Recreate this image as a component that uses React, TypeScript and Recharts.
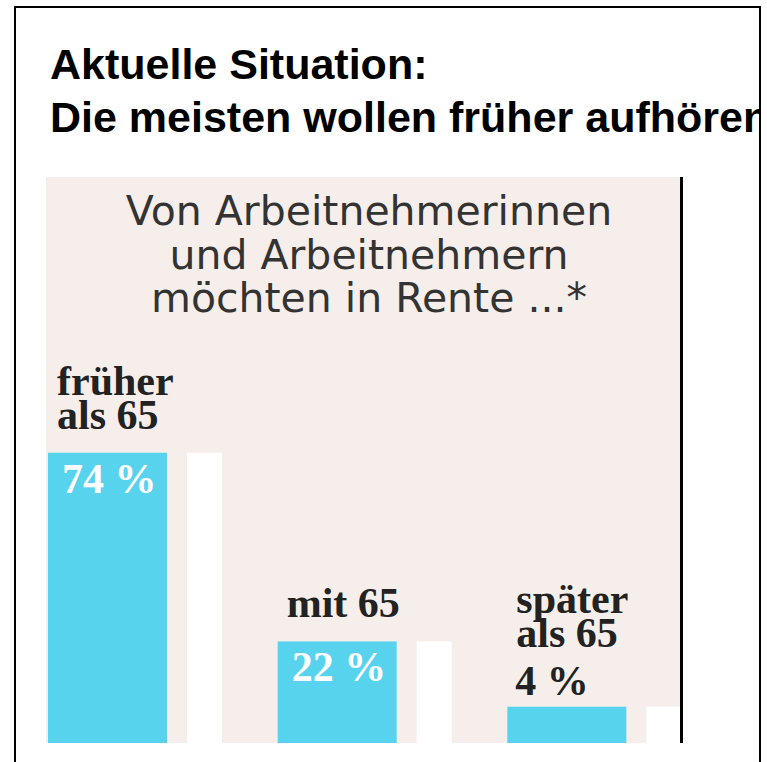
import { BarChart, Bar, XAxis, YAxis, LabelList } from "recharts";

const HEADLINE = ["Aktuelle Situation:", "Die meisten wollen früher aufhören"];
const NOTE_LINES = ["Von Arbeitnehmerinnen", "und Arbeitnehmern", "möchten in Rente ...*"];
const CATEGORIES = ["früher als 65", "mit 65", "später als 65"];
const CATEGORY_LINES = [["früher", "als 65"], ["mit 65"], ["später", "als 65"]];
const SHARES = [74, 22, 4];

// the printed bars are not to scale, so the axis starts a bit below zero
const AXIS_FLOOR = -6;
const AXIS_CEIL = 150;

const BAR_FILL = "#58d3ee";
const PANEL_FILL = "#f5eeea";
const MAIN_W = 119;
const GAP_W = 20;
const SHADOW_W = 35;

const data = CATEGORIES.map((name, i) => ({
  name,
  share: SHARES[i],
  span: [AXIS_FLOOR, SHARES[i]],
}));

const serif = {
  fontFamily: "'Liberation Serif', serif",
  fontWeight: 700,
  fontSize: 42,
};

const isInside = (v: number) => v >= 10;

const ShadowBar = (props: any) => {
  const { x, y, height } = props;
  return (
    <g>
      <rect x={x} y={y} width={MAIN_W} height={height} fill={BAR_FILL} />
      <rect
        x={x + MAIN_W + GAP_W}
        y={y}
        width={SHADOW_W}
        height={height}
        fill="#ffffff"
      />
    </g>
  );
};

const renderShare = (props: any) => {
  const x = props.x ?? props.viewBox?.x;
  const y = props.y ?? props.viewBox?.y;
  const value = Number(props.value);
  const inside = isInside(value);
  return (
    <text
      x={x + (inside ? 14 : 8)}
      y={inside ? y + 40 : y - 12}
      fill={inside ? "#ffffff" : "#222222"}
      style={serif}
    >
      {value} %
    </text>
  );
};

const renderCategory = (props: any) => {
  const x = props.x ?? props.viewBox?.x;
  const y = props.y ?? props.viewBox?.y;
  const idx = props.index ?? 0;
  const lines = CATEGORY_LINES[idx];
  const last = isInside(SHARES[idx]) ? y - 24 : y - 60;
  return (
    <text fill="#222222" style={serif}>
      {lines.map((l, k) => (
        <tspan key={k} x={x + 9} y={last - (lines.length - 1 - k) * 34}>
          {l}
        </tspan>
      ))}
    </text>
  );
};

export default function App() {
  return (
    <div
      style={{
        position: "absolute",
        left: 0,
        top: 0,
        width: 767,
        height: 762,
        overflow: "hidden",
        background: "#ffffff",
      }}
    >
      <svg
        width={767}
        height={762}
        style={{ position: "absolute", left: 0, top: 0 }}
      >
        <defs>
          <clipPath id="frameClip">
            <rect x={16} y={8} width={743} height={760} />
          </clipPath>
        </defs>
        <g
          clipPath="url(#frameClip)"
          style={{
            fontFamily: "'Liberation Sans', Arial, sans-serif",
            fontWeight: 700,
            fontSize: 43,
          }}
        >
          <text x={50} y={79}>{HEADLINE[0]}</text>
          <text x={50} y={132}>{HEADLINE[1]}</text>
        </g>
        <rect x={46} y={177} width={634} height={566} fill={PANEL_FILL} />
        <g
          style={{ fontFamily: "'DejaVu Sans', sans-serif", fontSize: 41 }}
          fill="#333333"
          textAnchor="middle"
        >
          {NOTE_LINES.map((l, i) => (
            <text key={i} x={369} y={225 + i * 43.5}>
              {l}
            </text>
          ))}
        </g>
      </svg>

      <div style={{ position: "absolute", left: 20, top: 0 }}>
        <BarChart
          width={689}
          height={762}
          data={data}
          margin={{ top: 177, right: 0, bottom: 19, left: 0 }}
        >
          <XAxis dataKey="name" hide />
          <YAxis type="number" domain={[AXIS_FLOOR, AXIS_CEIL]} allowDataOverflow hide />
          <Bar
            dataKey="span"
            barSize={MAIN_W + GAP_W + SHADOW_W}
            shape={<ShadowBar />}
            isAnimationActive={false}
          >
            <LabelList dataKey="share" content={renderShare} />
            <LabelList dataKey="name" content={renderCategory} />
          </Bar>
        </BarChart>
      </div>

      <svg
        width={767}
        height={762}
        style={{ position: "absolute", left: 0, top: 0, pointerEvents: "none" }}
      >
        <rect x={15} y={7} width={745} height={800} fill="none" stroke="#000" strokeWidth={2} />
        <rect x={680} y={177} width={3} height={566} fill="#000" />
      </svg>
    </div>
  );
}
